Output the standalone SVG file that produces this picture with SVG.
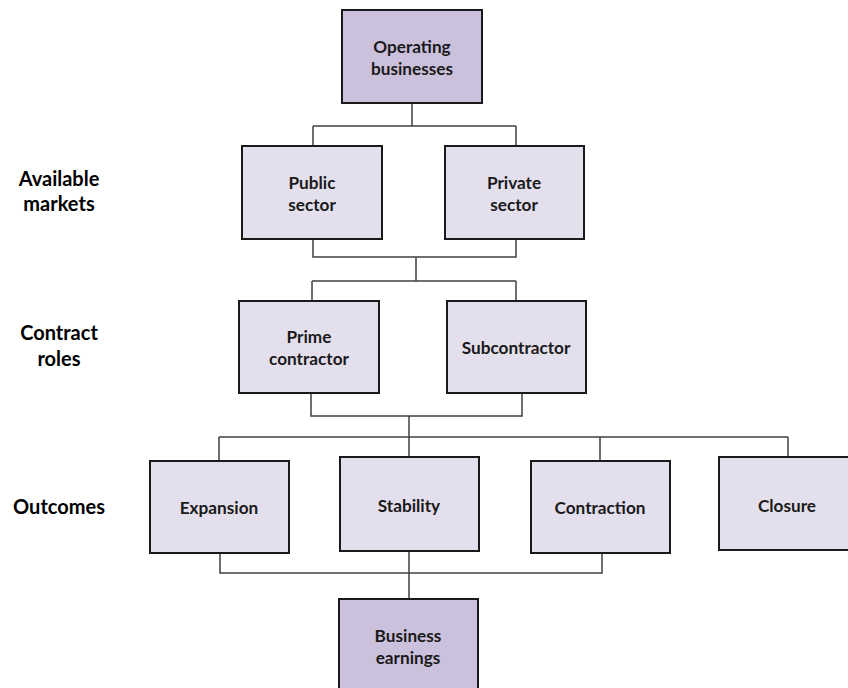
<svg xmlns="http://www.w3.org/2000/svg" width="848" height="688" viewBox="0 0 848 688">
<style>
.box{stroke:#1a1a1a;stroke-width:2}
.dark{fill:#ccc1dc}
.light{fill:#e4dfec}
.t{font-family:Lato,"Open Sans","Liberation Sans",sans-serif;font-weight:bold;font-size:17.2px;fill:#1a1a1a;text-anchor:middle;dominant-baseline:central}
.lbl{font-family:Lato,"Open Sans","Liberation Sans",sans-serif;font-weight:bold;font-size:20px;fill:#000;text-anchor:middle;dominant-baseline:central}
.c{fill:none;stroke:#404040;stroke-width:1.5}
</style>
<rect width="848" height="688" fill="#fff"/>
<g id="connectors">
<path class="c" d="M412 103V126M313 126H516M313 126V146M516 126V146"/>
<path class="c" d="M313 239V257H516V239M416 257V281M312 281H516M312 281V301M516 281V301"/>
<path class="c" d="M311 393V416H522V393M409 416V457M219 437H788M219 437V461M600 437V461M788 437V457"/>
<path class="c" d="M220 553V573H602V553M409 551V599"/>
</g>
<g id="label-markets"><text class="lbl" x="59" y="178">Available</text><text class="lbl" x="59" y="203">markets</text></g>
<g id="label-roles"><text class="lbl" x="59" y="332">Contract</text><text class="lbl" x="59" y="358">roles</text></g>
<g id="label-outcomes"><text class="lbl" x="59" y="506">Outcomes</text></g>
<g id="operating"><rect class="box dark" x="342" y="10" width="140" height="93"/><text class="t" x="412" y="46">Operating</text><text class="t" x="412" y="68">businesses</text></g>
<g id="public"><rect class="box light" x="242" y="146" width="140" height="93"/><text class="t" x="312" y="182">Public</text><text class="t" x="312" y="204">sector</text></g>
<g id="private"><rect class="box light" x="445" y="146" width="139" height="93"/><text class="t" x="514" y="182">Private</text><text class="t" x="514" y="204">sector</text></g>
<g id="prime"><rect class="box light" x="239" y="301" width="140" height="92"/><text class="t" x="309" y="336">Prime</text><text class="t" x="309" y="358">contractor</text></g>
<g id="sub"><rect class="box light" x="447" y="301" width="139" height="92"/><text class="t" x="516" y="347">Subcontractor</text></g>
<g id="expansion"><rect class="box light" x="150" y="461" width="139" height="92"/><text class="t" x="219" y="507">Expansion</text></g>
<g id="stability"><rect class="box light" x="340" y="457" width="139" height="94"/><text class="t" x="409" y="505">Stability</text></g>
<g id="contraction"><rect class="box light" x="531" y="461" width="139" height="92"/><text class="t" x="600" y="507">Contraction</text></g>
<g id="closure"><rect class="box light" x="719" y="457" width="139" height="93"/><text class="t" x="787" y="505">Closure</text></g>
<g id="earnings"><rect class="box dark" x="339" y="599" width="139" height="95"/><text class="t" x="408" y="635">Business</text><text class="t" x="408" y="657">earnings</text></g>
</svg>
